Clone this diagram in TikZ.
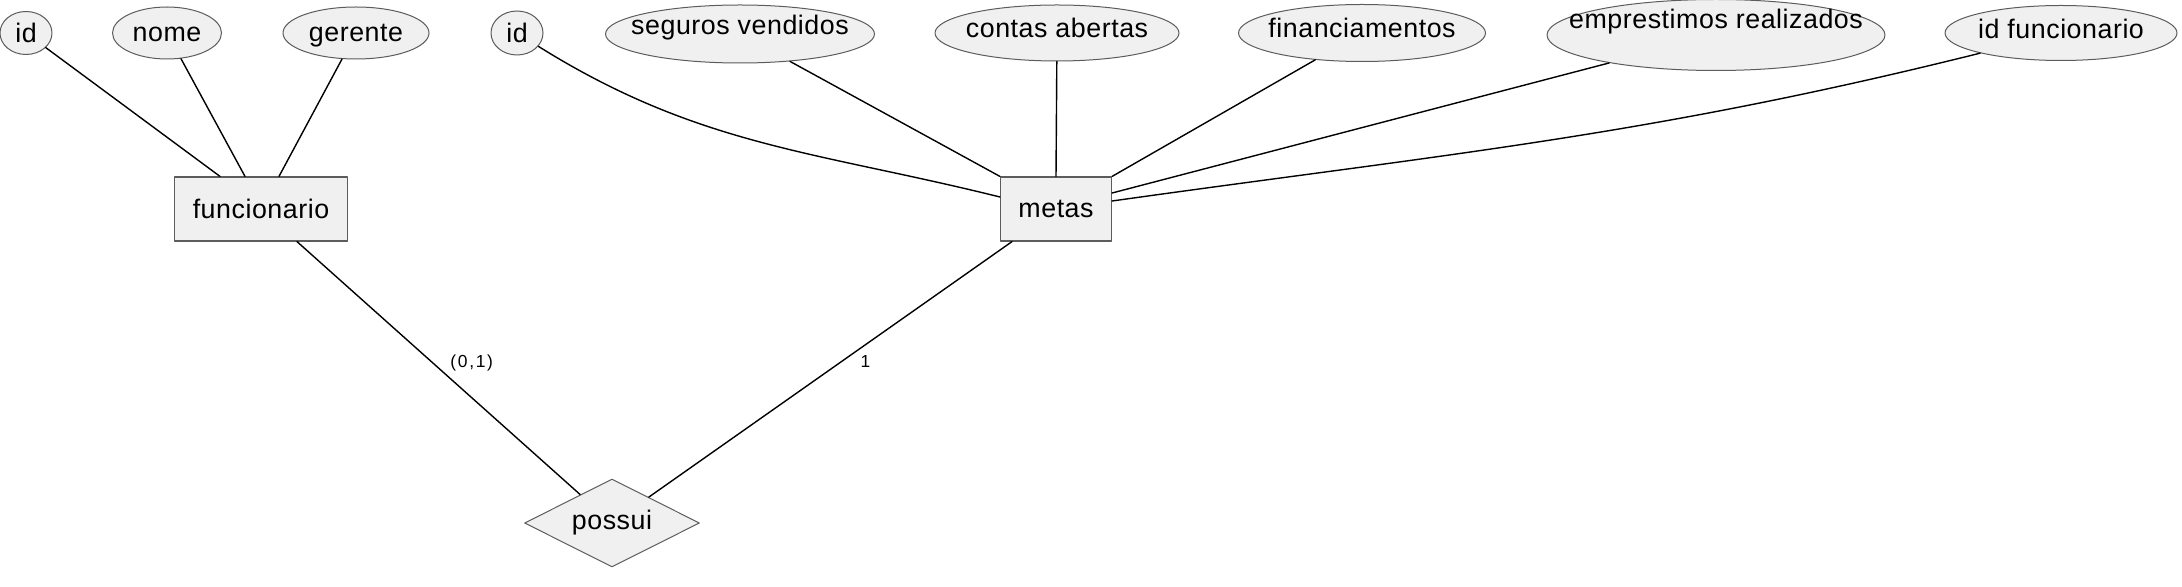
\documentclass[tikz,border=0pt]{standalone}
\usepackage{fontspec}
\setmainfont{Liberation Sans}[LetterSpace=2]
\usetikzlibrary{shapes.geometric}
\definecolor{erfill}{HTML}{F0F0F0}
\definecolor{erline}{HTML}{5C5C5C}
\begin{document}
\begin{tikzpicture}[x=0.5pt,y=-0.5pt,line join=round,line cap=round]
    \tikzset{attr/.style={ellipse,draw=erline,fill=erfill,line width=0.5pt,inner xsep=-40pt,inner ysep=-6pt,
            font=\fontsize{13.4}{16}\selectfont,text height=10pt,text depth=5pt},
        ent/.style={rectangle,draw=erline,fill=erfill,line width=0.6pt,inner sep=0pt,font=\fontsize{13.4}{16}\selectfont},
        rel/.style={diamond,shape aspect=2,draw=erline,fill=erfill,line width=0.5pt,inner sep=0pt,font=\fontsize{13.4}{16}\selectfont},
        card/.style={font=\fontsize{8.7}{10}\selectfont\addfontfeatures{LetterSpace=10}},
        link/.style={line width=0.7pt}}
    \useasboundingbox (0,0) rectangle (2182,587);
    %% entidades e relacionamento
    \node[ent,minimum width=86.5pt,minimum height=32pt] (func) at (261,209) {funcionario};
    \node[ent,minimum width=55.5pt,minimum height=32pt] (metas) at (1056,209) {metas};
    \node[rel,minimum width=87.5pt,minimum height=44pt] (possui) at (612,523) {possui};
    %% atributos
    \node[attr,minimum width=26pt,minimum height=21.5pt,text depth=0pt] (id1) at (26,33) {id};
    \node[attr,minimum width=54.5pt,minimum height=26pt,text depth=1.3pt] (nome) at (167,33) {nome};
    \node[attr,minimum width=73pt,minimum height=26pt,text depth=1.3pt] (gerente) at (356,33) {gerente};
    \node[attr,minimum width=26pt,minimum height=22pt,text depth=0pt] (id2) at (517,33) {id};
    \node[attr,minimum width=134.5pt,minimum height=29pt,text depth=9pt] (seguros) at (740,34) {seguros vendidos};
    \node[attr,minimum width=122pt,minimum height=28pt] (contas) at (1057,33) {contas abertas};
    \node[attr,minimum width=123.5pt,minimum height=28.5pt] (financ) at (1362,33) {financiamentos};
    \node[attr,minimum width=169pt,minimum height=35.5pt,text depth=16pt] (emprest) at (1716,35) {emprestimos realizados};
    \node[attr,minimum width=116pt,minimum height=27.5pt,text depth=4pt] (idfunc) at (2061,33) {id funcionario};
    %% ligacoes
    \draw[link] (id1) -- ([xshift=-20.5pt]func.north);
    \draw[link] (nome) -- ([xshift=-8pt]func.north);
    \draw[link] (gerente) -- ([xshift=9pt]func.north);
    \draw[link] (id2) to[out=-32,in=166] ([yshift=6pt]metas.west);
    \draw[link] (seguros) -- (metas.north west);
    \draw[link] (contas) -- (metas.north);
    \draw[link] (financ) -- (metas.north east);
    \draw[link] (emprest) -- ([yshift=8pt]metas.east);
    \draw[link] (idfunc) to[out=-166,in=8] ([yshift=4pt]metas.east);
    \draw[link] ([xshift=18pt]func.south) -- node[card,pos=0.48,right=5pt] {(0,1)} (possui);
    \draw[link] ([xshift=-22pt]metas.south) -- node[card,pos=0.47,right=6pt] {1} (possui);
\end{tikzpicture}
\end{document}
